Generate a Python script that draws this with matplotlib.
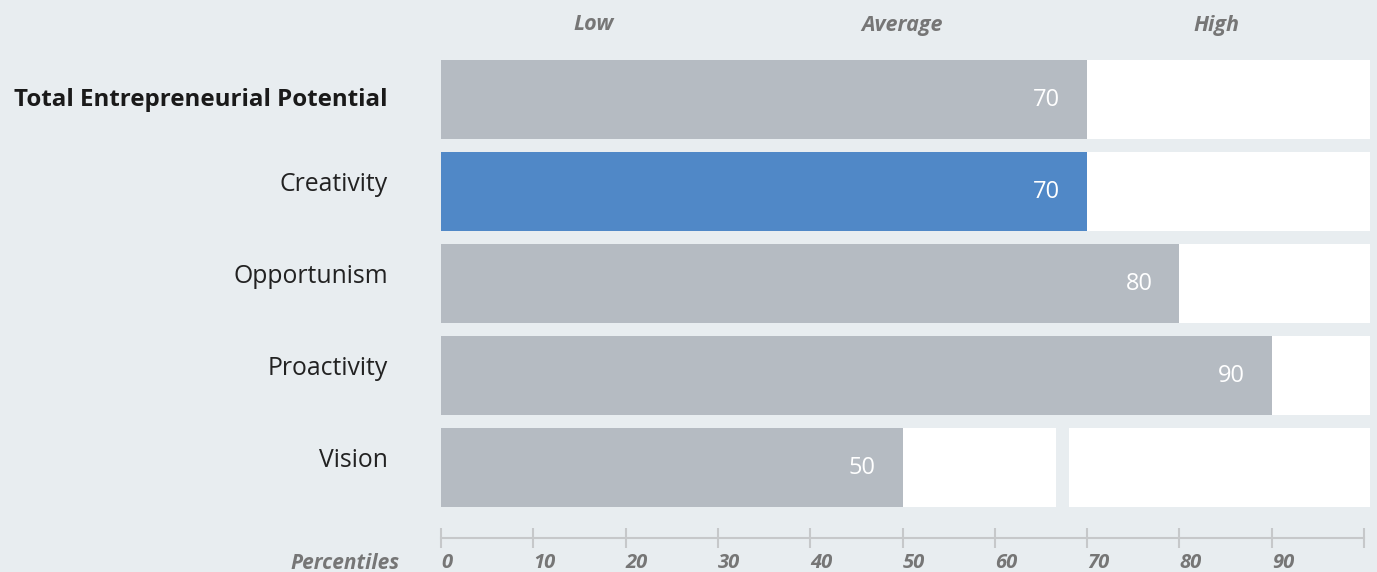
import matplotlib
matplotlib.use("Agg")
import matplotlib.pyplot as plt
import matplotlib.transforms as mtransforms

categories = ["Total Entrepreneurial Potential", "Creativity", "Opportunism", "Proactivity", "Vision"]
values = [70, 70, 80, 90, 50]
highlight = [False, True, False, False, False]
bold_label = [True, False, False, False, False]
tick_values = [0, 10, 20, 30, 40, 50, 60, 70, 80, 90, 100]
tick_labels = ["0", "10", "20", "30", "40", "50", "60", "70", "80", "90", ""]
bands = ["Low", "Average", "High"]
band_centers = [16.5, 50, 84]
track_end = 100.65
vision_gap = (66.6, 68.0)

BG = "#e8edf0"
GRAY = "#b5bbc2"
BLUE = "#5088c7"
TXT = "#767676"

plt.rcParams['font.family'] = ['Open Sans', 'DejaVu Sans']

fig = plt.figure(figsize=(13.77, 5.72), dpi=100, facecolor=BG)
left = 441 / 1377
width = (1370 - 441) / 1377
ax = fig.add_axes([left, 1 - 538 / 572, width, 538 / 572])
ax.set_facecolor(BG)
ax.set_xlim(0, track_end)
# row center at 99.5 px, spacing 92 px
ax.set_ylim((538 - 99.5) / 92.0, -99.5 / 92.0)

rows = list(range(len(categories)))
h = 0.86
ax.barh(rows, [track_end] * len(rows), height=h, color="white", zorder=1)
# gap in vision track
ax.barh([rows[-1]], [vision_gap[1] - vision_gap[0]], left=[vision_gap[0]], height=h + 0.02,
        color=BG, zorder=1.5)
colors = [BLUE if hl else GRAY for hl in highlight]
ax.barh(rows, values, height=h, color=colors, zorder=2)

for r, v in zip(rows, values):
    ax.text(v - 2.9, r + 0.01, str(v), ha="right", va="center", color="white",
            fontsize=17, zorder=3)

trans = mtransforms.blended_transform_factory(fig.transFigure, ax.transData)
for r, c, b in zip(rows, categories, bold_label):
    off = 0 if b else -0.08
    ax.text(388 / 1377, r + off, c, ha="right", va="center", transform=trans,
            fontsize=17.4 if b else 17.8, fontweight="bold" if b else "normal",
            color="#1a1a1a" if b else "#222222")

for name, cx in zip(bands, band_centers):
    ax.text(cx, -99.5 / 92.0 + 25 / 92.0, name, ha="center", va="center", fontsize=15.5,
            fontstyle="italic", fontweight="bold", color=TXT)

for s in ["top", "right", "left"]:
    ax.spines[s].set_visible(False)
ax.spines["bottom"].set_bounds(0, 100)
ax.spines["bottom"].set_color("#c6c8ca")
ax.spines["bottom"].set_linewidth(1.5)
ax.set_yticks([])
ax.set_xticks(tick_values)
ax.set_xticklabels(tick_labels, ha="left", fontsize=14.5, fontstyle="italic",
                   fontweight="bold", color=TXT)
ax.tick_params(axis="x", direction="inout", length=14, width=1.5, color="#c6c8ca", pad=4)

ptxt = fig.text(400 / 1377, 0.0, "Percentiles", ha="right", va="center",
                fontsize=15, fontstyle="italic", fontweight="bold", color=TXT)
fig.canvas.draw()
tl = ax.get_xticklabels()[0].get_window_extent()
ptxt.set_transform(mtransforms.IdentityTransform())
ptxt.set_position((400, (tl.y0 + tl.y1) / 2))

fig.savefig("out.png", dpi=100, facecolor=BG)
